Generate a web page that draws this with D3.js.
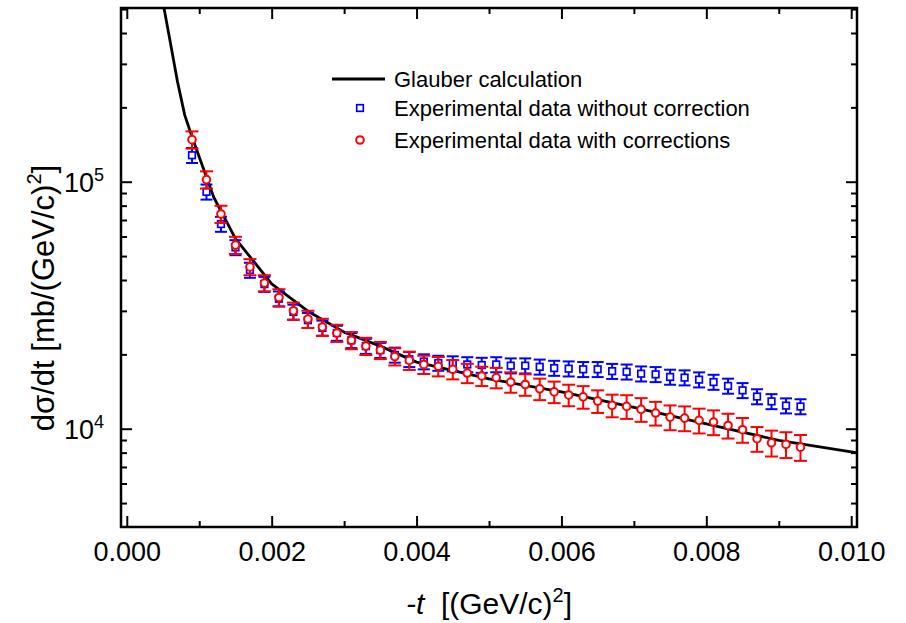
<!DOCTYPE html>
<html>
<head>
<meta charset="utf-8">
<script src="https://cdn.jsdelivr.net/npm/d3@7"></script>
<style>
  body { margin: 0; background: #fff; }
  text { font-family: "Liberation Sans", Arial, sans-serif; fill: #000; }
</style>
</head>
<body>
<script>
// -t values of the measured points, (GeV/c)^2
const tValues = [0.0009, 0.0011, 0.0013, 0.0015, 0.0017, 0.0019, 0.0021, 0.0023, 0.0025, 0.0027,
  0.0029, 0.0031, 0.0033, 0.0035, 0.0037, 0.0039, 0.0041, 0.0043, 0.0045, 0.0047,
  0.0049, 0.0051, 0.0053, 0.0055, 0.0057, 0.0059, 0.0061, 0.0063, 0.0065, 0.0067,
  0.0069, 0.0071, 0.0073, 0.0075, 0.0077, 0.0079, 0.0081, 0.0083, 0.0085, 0.0087,
  0.0089, 0.0091, 0.0093];

// data without correction (blue squares), mb/(GeV/c)^2
const rawValues = [128000, 91000, 67400, 54200, 43900, 38500, 33600, 29700, 27500, 25600,
  24400, 22800, 21600, 20800, 19900, 19100, 18700, 18450, 18350, 18200,
  18100, 18200, 18000, 18000, 17800, 17600, 17500, 17400, 17400, 17100,
  17000, 16700, 16600, 16200, 16100, 15800, 15450, 14900, 14300, 13500,
  12900, 12400, 12300];
// relative errors, percent
const rawErrPct = [7, 7, 7, 7, 7, 7, 7, 7, 7, 7,
  7, 7, 7, 7, 7, 7, 7, 7, 7, 7,
  7, 7, 7, 7, 7, 7, 7, 7, 7, 7,
  7, 7, 7, 7, 7, 7, 7, 7, 7, 7,
  7, 7, 7];

// data with corrections (red circles)
const corrValues = [148000, 102000, 74000, 55400, 45200, 38900, 34000, 30000, 27800, 25800,
  24400, 22800, 21600, 20800, 19600, 18900, 18200, 17900, 17400, 16800,
  16350, 16100, 15450, 15100, 14500, 14100, 13700, 13460, 12940, 12430,
  12310, 11980, 11570, 11140, 11040, 10810, 10640, 10310, 9910, 9110,
  8770, 8640, 8420];
const corrErrPct = [8, 8, 8, 8, 7.5, 7.5, 8, 8, 8, 8,
  8, 8, 8, 8, 8, 8.5, 8.5, 9, 9, 9,
  9, 9.5, 9.5, 10, 10, 10, 10, 10.5, 10.5, 10.5,
  11, 11, 11, 11.5, 11.5, 11.5, 11.5, 11.5, 11.5, 11.5,
  12, 12, 12];

// Glauber calculation curve
const glauberT = [0.00045, 0.0005, 0.0006, 0.0007, 0.0008, 0.0009, 0.0010, 0.0012, 0.0015, 0.0020,
  0.0025, 0.0030, 0.0035, 0.0040, 0.0050, 0.0060, 0.0070, 0.0080, 0.0090, 0.0100, 0.0101];
const glauberValues = [636000, 530000, 368000, 254000, 186000, 152000, 126000, 86500, 58800, 38600,
  29900, 24600, 21600, 18600, 15900, 14100, 12200, 10450, 8970, 8050, 7960];

const xMajor = [0, 0.002, 0.004, 0.006, 0.008, 0.010];
const xMinor = [0.001, 0.003, 0.005, 0.007, 0.009];
const yMajor = [1e4, 1e5];
const yMinor = [5000, 6000, 7000, 8000, 9000, 20000, 30000, 40000, 50000, 60000, 70000, 80000, 90000,
  200000, 300000, 400000, 500000];

const legendLabels = ["Glauber calculation", "Experimental data without correction", "Experimental data with corrections"];

const W = 906, H = 623;
const margin = { top: 8, right: 49, bottom: 96, left: 121 };
const width = W - margin.left - margin.right;
const height = H - margin.top - margin.bottom;

const svg = d3.select("body").append("svg")
  .attr("width", W).attr("height", H);

svg.append("rect").attr("width", W).attr("height", H).attr("fill", "white");

const g = svg.append("g").attr("transform", `translate(${margin.left},${margin.top})`);

const x = d3.scaleLinear().domain([-0.00008, 0.01008]).range([0, width]);
const y = d3.scaleLog().domain([4000, 5.05e5]).range([height, 0]);

// clip for data
svg.append("defs").append("clipPath").attr("id", "clip")
  .append("rect").attr("width", width).attr("height", height);

const plot = g.append("g").attr("clip-path", "url(#clip)");

// Glauber line
const line = d3.line()
  .x((d, i) => x(glauberT[i]))
  .y((d) => y(d));
plot.append("path")
  .datum(glauberValues)
  .attr("fill", "none")
  .attr("stroke", "black")
  .attr("stroke-width", 2.8)
  .attr("stroke-linejoin", "round")
  .attr("d", line);

const drawSeries = (values, errPct, color, cap, marker) => {
  const s = plot.append("g");
  values.forEach((v, i) => {
    const cx = x(tValues[i]);
    const err = v * errPct[i] / 100;
    const y1 = y(v + err), y2 = y(v - err);
    s.append("line").attr("x1", cx).attr("x2", cx).attr("y1", y1).attr("y2", y2)
      .attr("stroke", color).attr("stroke-width", 2);
    [y1, y2].forEach((yy) => {
      s.append("line").attr("x1", cx - cap).attr("x2", cx + cap).attr("y1", yy).attr("y2", yy)
        .attr("stroke", color).attr("stroke-width", 2);
    });
    marker(s, cx, y(v));
  });
};

const square = (sel, cx, cy) => sel.append("rect")
  .attr("x", cx - 3.3).attr("y", cy - 3.3).attr("width", 6.6).attr("height", 6.6)
  .attr("fill", "white").attr("stroke", "#0000ff").attr("stroke-width", 1.7);
const circle = (sel, cx, cy) => sel.append("circle")
  .attr("cx", cx).attr("cy", cy).attr("r", 3.8)
  .attr("fill", "white").attr("stroke", "#ff0000").attr("stroke-width", 2);

drawSeries(rawValues, rawErrPct, "#0000ff", 6, square);
drawSeries(corrValues, corrErrPct, "#ff0000", 6.5, circle);

// axes: inward ticks on all four sides
const addAxis = (axis, transform) => {
  const a = g.append("g").attr("transform", transform).call(axis);
  a.select(".domain").remove();
  a.selectAll(".tick line").attr("stroke-width", 2);
  return a;
};

const xAxis = addAxis(d3.axisBottom(x).tickValues(xMajor).tickSize(-11).tickPadding(15)
  .tickFormat(d3.format(".3f")), `translate(0,${height})`);
xAxis.selectAll("text").attr("font-size", 27).attr("font-family", "Liberation Sans, Arial, sans-serif");
addAxis(d3.axisBottom(x).tickValues(xMinor).tickSize(-6).tickFormat(""), `translate(0,${height})`);
addAxis(d3.axisTop(x).tickValues(xMajor).tickSize(-11).tickFormat(""), "translate(0,0)");
addAxis(d3.axisTop(x).tickValues(xMinor).tickSize(-6).tickFormat(""), "translate(0,0)");

addAxis(d3.axisLeft(y).tickValues(yMajor).tickSize(-11).tickFormat(""), "translate(0,0)");
addAxis(d3.axisLeft(y).tickValues(yMinor).tickSize(-6).tickFormat(""), "translate(0,0)");
addAxis(d3.axisRight(y).tickValues(yMajor).tickSize(-11).tickFormat(""), `translate(${width},0)`);
addAxis(d3.axisRight(y).tickValues(yMinor).tickSize(-6).tickFormat(""), `translate(${width},0)`);

// y tick labels 10^n
yMajor.forEach((v) => {
  const t = g.append("text")
    .attr("x", -17).attr("y", y(v) + 10)
    .attr("text-anchor", "end")
    .attr("font-size", 27);
  t.append("tspan").text("10");
  t.append("tspan").attr("dy", -11).attr("font-size", 18).text(Math.round(Math.log10(v)));
});

// frame
g.append("rect")
  .attr("width", width).attr("height", height)
  .attr("fill", "none").attr("stroke", "black").attr("stroke-width", 2.5);

// axis titles
const xt = svg.append("text")
  .attr("x", margin.left + width / 2).attr("y", 614)
  .attr("text-anchor", "middle").attr("font-size", 30);
xt.append("tspan").attr("font-style", "italic").text("-t");
xt.append("tspan").text("\u00a0 [(GeV/c)");
xt.append("tspan").attr("dy", -12).attr("font-size", 20).text("2");
xt.append("tspan").attr("dy", 12).text("]");

const yt = svg.append("text")
  .attr("transform", "translate(54,298) rotate(-90)")
  .attr("text-anchor", "middle").attr("font-size", 31);
yt.append("tspan").text("d\u03c3/dt [mb/(GeV/c)");
yt.append("tspan").attr("dy", -13).attr("font-size", 20).text("2");
yt.append("tspan").attr("dy", 13).text("]");

// legend
const legend = svg.append("g");
const legendY = [79, 108, 140];
legend.append("line").attr("x1", 332).attr("x2", 385).attr("y1", legendY[0]).attr("y2", legendY[0])
  .attr("stroke", "black").attr("stroke-width", 2.8);
square(legend, 360, legendY[1]);
circle(legend, 360, legendY[2]);
legendLabels.forEach((s, i) => {
  legend.append("text").attr("x", 394).attr("y", legendY[i] + 8)
    .attr("font-size", 22).text(s);
});
</script>
</body>
</html>
